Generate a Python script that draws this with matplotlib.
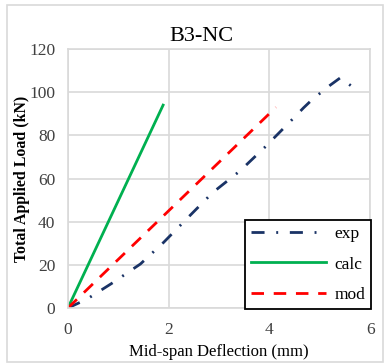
import matplotlib
matplotlib.use("Agg")
import matplotlib.pyplot as plt
from matplotlib.patches import Rectangle

plt.rcParams['font.family'] = ['Liberation Serif', 'DejaVu Serif']

# deflection (mm) / load (kN)
exp_x = [0, 0.37, 0.87, 1.44, 1.9, 2.4, 2.87, 3.42, 3.91, 4.38, 4.68, 4.86, 5.21, 5.41, 5.64, 5.68]
exp_y = [0, 4.0, 11.4, 20.4, 30.4, 42.3, 53.4, 63.6, 74.5, 85.6, 92.8, 96.8, 103.3, 106.7, 102.6, 101.8]
calc_x = [0, 1.89]
calc_y = [0, 94]
mod_x = [0, 4.13]
mod_y = [0, 93]

fig = plt.figure(figsize=(3.88, 3.63), dpi=100)
ax = fig.add_axes([0.175, 0.1515, 0.779, 0.7135])

# outer chart frame
fig.patches.append(Rectangle((7 / 388, 0.002), 376 / 388, 1 - 5 / 363 - 0.002,
                             transform=fig.transFigure, fill=False,
                             edgecolor='#d9d9d9', linewidth=1.2))

ax.plot(exp_x, exp_y, color='#1a3366', linewidth=2, linestyle=(0, (4.7, 4.2, 0.7, 4.2)), label='exp')
ax.plot(calc_x, calc_y, color='#00b050', linewidth=2, label='calc')
ax.plot(mod_x, mod_y, color='#ff0000', linewidth=2, linestyle=(0, (4.5, 3.5)), label='mod')

ax.set_xlim(0, 6)
ax.set_ylim(0, 120)
ax.set_xticks([0, 2, 4, 6])
ax.set_yticks(range(0, 121, 20))
ax.grid(True, color='#d9d9d9', linewidth=1.2)
ax.set_axisbelow(True)
for s in ax.spines.values():
    s.set_color('#d9d9d9')
    s.set_linewidth(1.2)
ax.tick_params(length=0, labelsize=12.5, colors='#404040')
ax.tick_params(axis='x', pad=10)
ax.tick_params(axis='y', pad=9)

ax.set_xlabel('Mid-span Deflection (mm)', fontsize=12, va='center')
ax.set_ylabel('Total Applied Load (kN)', fontsize=11.4, fontweight='bold', va='center')
ax.xaxis.set_label_coords(0.5, -0.17)
ax.yaxis.set_label_coords(-0.152, 0.5)
fig.text(0.518, 0.9, 'B3-NC', fontsize=16, ha='center', va='center')

leg = ax.legend(loc='lower right', bbox_to_anchor=(1.003, -0.004), fontsize=12.5,
                handlelength=4.3, labelspacing=0.84, borderpad=0.33, handletextpad=0.5,
                borderaxespad=0, fancybox=False, framealpha=1)
leg.get_frame().set_edgecolor('black')
leg.get_frame().set_linewidth(1.3)

fig.savefig('out.png', dpi=100)
